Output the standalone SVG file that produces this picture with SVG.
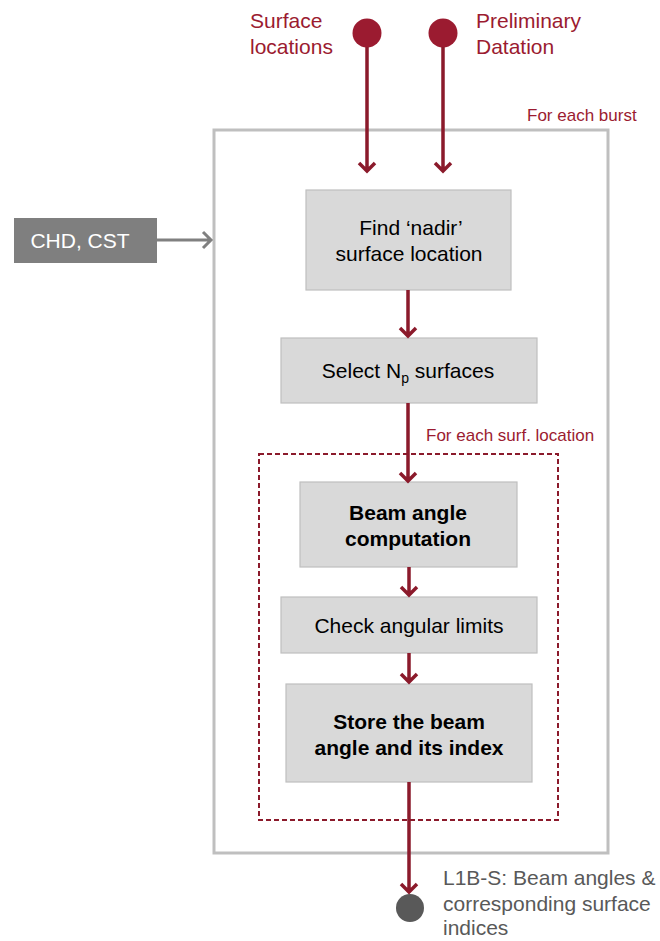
<svg xmlns="http://www.w3.org/2000/svg" width="660" height="941" viewBox="0 0 660 941">
<style>
text{font-family:"Liberation Sans",Arial,sans-serif;font-size:21px}
.box{fill:#d9d9d9;stroke:#bfbfbf;stroke-width:1.2}
.t{fill:#000;text-anchor:middle}
.b{font-weight:bold}
.red{fill:#9b1b30}
.lbl{fill:#9b1b30;font-size:17px}
.flow{stroke:#8b1a2b;stroke-width:3.5;fill:none}
.grey{fill:#595959}
</style>
<rect x="214" y="130" width="394" height="723" fill="none" stroke="#bfbfbf" stroke-width="3"/>
<text x="527" y="121" class="lbl">For each burst</text>
<rect x="259" y="454" width="299" height="366" fill="none" stroke="#8b1a2b" stroke-width="2" stroke-dasharray="5,3"/>
<text x="426" y="441" class="lbl">For each surf. location</text>

<g id="in-surface">
<circle cx="367" cy="33" r="14.5" fill="#9b1b30"/>
<text x="250" y="28" class="red">Surface</text>
<text x="250" y="54" class="red">locations</text>
</g>
<g id="in-datation">
<circle cx="443" cy="33" r="14.5" fill="#9b1b30"/>
<text x="476" y="28" class="red">Preliminary</text>
<text x="476" y="54" class="red">Datation</text>
</g>
<g id="chd">
<rect x="14" y="218" width="143" height="45" fill="#7f7f7f"/>
<text x="80" y="248" fill="#fff" text-anchor="middle">CHD, CST</text>
</g>
<g id="find">
<rect x="306" y="190" width="205" height="100" class="box"/>
<text x="411" y="235" class="t">Find ‘nadir’</text>
<text x="409" y="261" class="t">surface location</text>
</g>
<g id="select">
<rect x="281" y="338" width="256" height="65" class="box"/>
<text x="408" y="378" class="t">Select N<tspan font-size="14" dy="5">p</tspan><tspan dy="-5"> surfaces</tspan></text>
</g>
<g id="beam">
<rect x="300" y="482" width="217" height="85" class="box"/>
<text x="408" y="520" class="t b">Beam angle</text>
<text x="408" y="546" class="t b">computation</text>
</g>
<g id="check">
<rect x="281" y="597" width="256" height="56" class="box"/>
<text x="409" y="633" class="t">Check angular limits</text>
</g>
<g id="store">
<rect x="286" y="684" width="246" height="98" class="box"/>
<text x="409" y="729" class="t b">Store the beam</text>
<text x="409" y="755" class="t b">angle and its index</text>
</g>
<g id="out">
<circle cx="410" cy="908" r="14" fill="#595959"/>
<text x="443" y="885" class="grey">L1B-S: Beam angles &amp;</text>
<text x="443" y="911" class="grey">corresponding surface</text>
<text x="443" y="935" class="grey">indices</text>
</g>

<g id="connectors">
<path class="flow" d="M367 47V171 M359 163L367 171L375 163"/>
<path class="flow" d="M443 47V171 M435 163L443 171L451 163"/>
<path class="flow" d="M408 290V336 M400 328L408 336L416 328"/>
<path class="flow" d="M408 403V481 M400 473L408 481L416 473"/>
<path class="flow" d="M409 567V595 M401 587L409 595L417 587"/>
<path class="flow" d="M409 653V682 M401 674L409 682L417 674"/>
<path class="flow" d="M409 782V892 M401 884L409 892L417 884"/>
<path d="M157 240H211 M203 232L211 240L203 248" stroke="#808080" stroke-width="3" fill="none"/>
</g>
</svg>
